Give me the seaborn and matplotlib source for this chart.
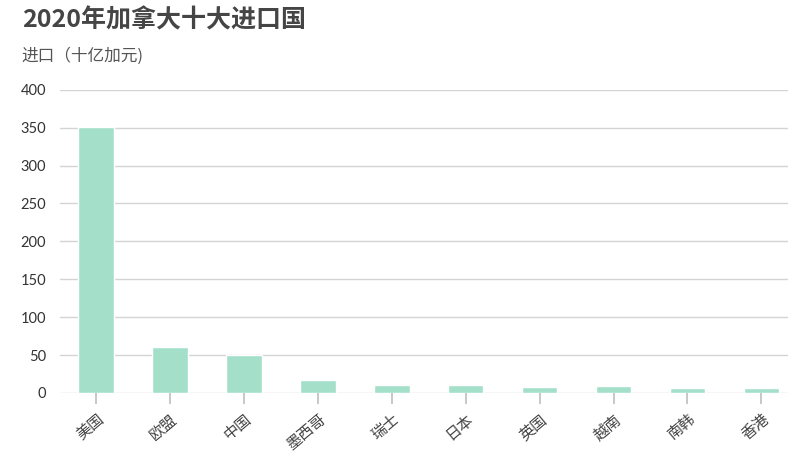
import matplotlib.pyplot as plt
import seaborn as sns
import pandas as pd

# data (billions CAD)
countries = ['美国', '欧盟', '中国', '墨西哥', '瑞士', '日本', '英国', '越南', '南韩', '香港']
imports = [351, 61, 50, 17, 10, 10.5, 8, 9, 7, 6]
y_ticks = [0, 50, 100, 150, 200, 250, 300, 350, 400]

title = '2020年加拿大十大进口国'
subtitle = '进口（十亿加元)'

df = pd.DataFrame({'country': countries, 'imports': imports})

sns.set_theme(style='white', rc={'xtick.bottom': True})
plt.rcParams['font.family'] = ['Noto Sans CJK SC', 'DejaVu Sans']

fig = plt.figure(figsize=(8, 4.58), dpi=100)
ax = fig.add_axes([0.075, 0.142, 0.91, 0.662])

sns.barplot(data=df, x='country', y='imports', color='#a4dfca',
            saturation=1, width=0.48, ax=ax, zorder=3)

ax.set_ylim(0, 400)
ax.set_xlim(-0.49, 9.36)
ax.set_yticks(y_ticks)
ax.yaxis.grid(True, color='#d4d4d4', linewidth=1, zorder=0)
ax.set_axisbelow(True)
for s in ax.spines.values():
    s.set_visible(False)

ax.set_xlabel('')
ax.set_ylabel('')
ax.tick_params(axis='y', length=0, pad=10, labelsize=10.5, labelcolor='#333333')
ax.tick_params(axis='x', bottom=True, direction='out', length=8, width=1.2,
               color='#bdbdbd', pad=5, labelsize=11, labelcolor='#444444')
for lbl in ax.get_yticklabels():
    lbl.set_family(['Lato', 'DejaVu Sans'])
for lbl in ax.get_xticklabels():
    lbl.set_rotation(40)
    lbl.set_ha('right')
    lbl.set_rotation_mode('anchor')

fig.text(0.027, 0.955, title, fontsize=18, fontweight='bold', color='#454545',
         va='center', ha='left')
fig.text(0.027, 0.878, subtitle, fontsize=12, color='#555555', va='center', ha='left')

fig.savefig('out.png', dpi=100)
